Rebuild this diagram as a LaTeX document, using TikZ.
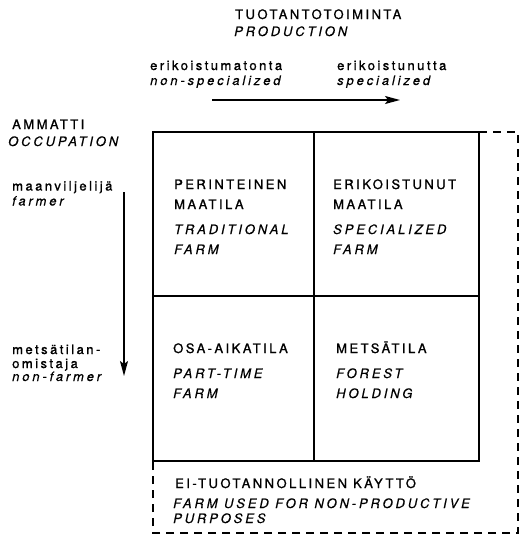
\documentclass[tikz,border=0pt]{standalone}
\usepackage{fontspec}
\usetikzlibrary{arrows.meta}
\setmainfont{TeX Gyre Heros}
\newfontfamily\lab[LetterSpace=19,FakeBold=1.2]{TeX Gyre Heros}
\newfontfamily\labit[LetterSpace=22,FakeBold=0.4]{TeX Gyre Heros}
\begin{document}
\begin{tikzpicture}[x=1pt,y=-1pt,
  txt/.style={anchor=base west,inner sep=0pt,font=\lab\fontsize{13}{15}\selectfont},
  itx/.style={anchor=base west,inner sep=0pt,font=\labit\fontsize{13}{15}\selectfont\itshape},
  boxline/.style={line width=1.6pt},
  dashline/.style={line width=1.4pt,dash pattern=on 8pt off 6pt},
  arr/.style={line width=1.4pt,-{Stealth[length=15pt,width=8pt,inset=3pt]}}]
\useasboundingbox (0,0) rectangle (519,536);
% grid coordinates
\coordinate (tl) at (153,132);
\coordinate (tm) at (314,132);
\coordinate (tr) at (479,132);
\coordinate (ml) at (153,296);
\coordinate (mr) at (479,296);
\coordinate (bl) at (153,461);
\coordinate (bm) at (314,461);
\coordinate (br) at (479,461);
\coordinate (dtr) at (518,132);
\coordinate (dbr) at (518,533);
\coordinate (dbl) at (153,533);
% solid grid
\draw[boxline] (tl) rectangle (br);
\draw[boxline] (tm) -- (bm);
\draw[boxline] (ml) -- (mr);
% dashed outer box
\draw[dashline] (tr) -- (dtr) -- (dbr) -- (dbl) -- (bl);
% arrows
\coordinate (hs) at (212,100);
\coordinate (he) at (400,100);
\coordinate (vs) at (124,192);
\coordinate (ve) at (124,376);
\draw[arr] (hs) -- (he);
\draw[arr] (vs) -- (ve);
% top labels
\node[txt] (t1) at (235,19) {TUOTANTOTOIMINTA};
\node[itx] (t2) at (234,36) {PRODUCTION};
\node[txt] (a1) at (150,70) {erikoistumatonta};
\node[itx] (a2) at (150,85) {non-specialized};
\node[txt] (b1) at (337,70) {erikoistunutta};
\node[itx] (b2) at (337,85) {specialized};
% left labels
\node[txt] (l1) at (12,129) {AMMATTI};
\node[itx] (l2) at (8,146) {OCCUPATION};
\node[txt] (m1) at (12,190.5) {maanviljelijä};
\node[itx] (m2) at (12,205.5) {farmer};
\node[txt] (n1) at (12,354) {metsätilan-};
\node[txt] (n2) at (12,368) {omistaja};
\node[itx] (n3) at (12,381) {non-farmer};
% cells
\node[txt] (c11) at (174,189) {PERINTEINEN};
\node[txt] (c12) at (174,209) {MAATILA};
\node[itx] (c13) at (174,234) {TRADITIONAL};
\node[itx] (c14) at (174,254) {FARM};
\node[txt] (d11) at (333,189) {ERIKOISTUNUT};
\node[txt] (d12) at (333,209) {MAATILA};
\node[itx] (d13) at (333,234) {SPECIALIZED};
\node[itx] (d14) at (333,254) {FARM};
\node[txt] (c21) at (173,353) {OSA-AIKATILA};
\node[itx] (c22) at (173,378) {PART-TIME};
\node[itx] (c23) at (173,398) {FARM};
\node[txt] (d21) at (336,353) {METSÄTILA};
\node[itx] (d22) at (336,378) {FOREST};
\node[itx] (d23) at (336,398) {HOLDING};
% bottom
\node[txt] (e1) at (175,488) {EI-TUOTANNOLLINEN KÄYTTÖ};
\node[itx] (e2) at (173,508) {FARM USED FOR NON-PRODUCTIVE};
\node[itx] (e3) at (173,523) {PURPOSES};
\end{tikzpicture}
\end{document}
